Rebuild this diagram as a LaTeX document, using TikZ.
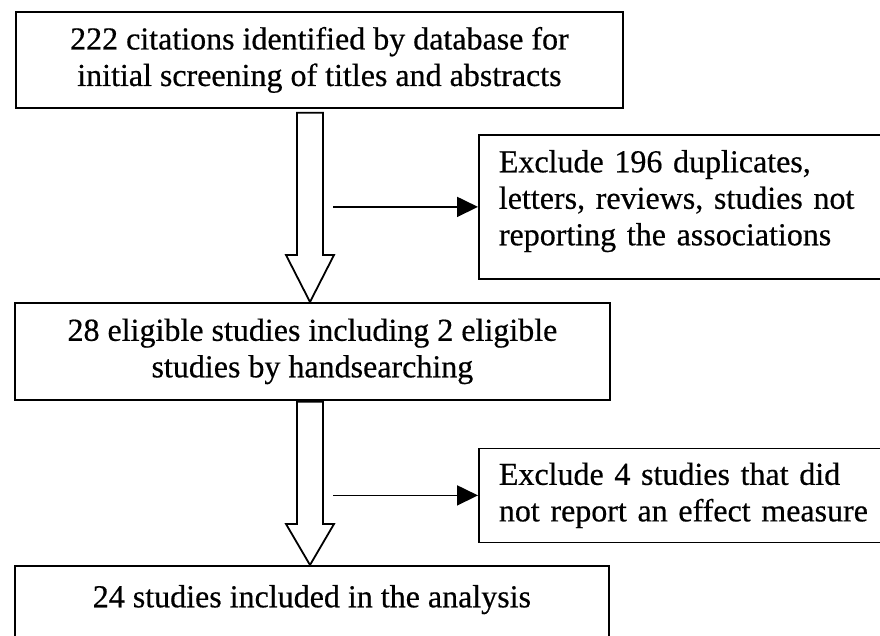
\documentclass[tikz,border=0pt]{standalone}
\usepackage{fontspec}
\setmainfont{Liberation Serif}[FakeBold=0.5]
\usetikzlibrary{arrows.meta,calc}
\begin{document}
\begin{tikzpicture}[x=1pt,y=-1pt,
  font=\fontsize{32}{36.5}\selectfont,
  box/.style={draw, line width=1.8pt, anchor=north west, inner sep=0pt, align=center},
  sidebox/.style={draw, line width=1.8pt, anchor=north west, inner xsep=20pt, inner ysep=0pt, align=left, text width=380pt},
  hollow/.style={draw, line width=1.8pt, fill=white, line join=miter},
  thinarrow/.style={line width=1.8pt, -{Triangle[length=21pt,width=20pt]}, shorten >=0pt}
]
\useasboundingbox (0,0) rectangle (880,636);
\clip (0,0) rectangle (880,636);
\fill[white] (0,0) rectangle (880,636);

\node[box, minimum width=607pt, minimum height=96pt] (b1) at (15,11)
  {222 citations identified by database for\\initial screening of titles and abstracts};
\node[sidebox, minimum width=420pt, minimum height=144pt] (b2) at (478,134)
  {Exclude 196 duplicates,\\letters, reviews, studies not\\reporting the associations\\[-29pt]\strut};
\node[box, minimum width=595pt, minimum height=97pt] (b3) at (14,302)
  {28 eligible studies including 2 eligible\\studies by handsearching};
\node[sidebox, minimum width=420pt, minimum height=94pt] (b4) at (478,447.5)
  {Exclude 4 studies that did\\not report an effect measure};
\node[box, minimum width=594pt, minimum height=96pt] (b5) at (14,565)
  {24 studies included in the analysis\\[-12pt]\strut};

% hollow arrow 1
\coordinate (t1) at (310,0 |- b3.north);
\coordinate (s1) at ($(310,0 |- b1.south)+(0,4)$);
\draw[hollow] (t1) -- ++(24,-47) -- ++(-11,0) -- (323,0 |- s1) -- (297,0 |- s1)
  -- ($(t1)+(-13,-47)$) -- ++(-11,0) -- cycle;
% hollow arrow 2
\coordinate (t2) at (310,0 |- b5.north);
\coordinate (s2) at ($(310,0 |- b3.south)+(0,1)$);
\draw[hollow] (t2) -- ++(24,-41) -- ++(-11,0) -- (323,0 |- s2) -- (297,0 |- s2)
  -- ($(t2)+(-13,-41)$) -- ++(-11,0) -- cycle;

% side arrows
\coordinate (a1) at (333,0 |- b2.west);
\draw[thinarrow] (a1) -- (b2.west);
\coordinate (a2) at (333,0 |- b4.west);
\draw[thinarrow] (a2) -- (b4.west);
\end{tikzpicture}
\end{document}
